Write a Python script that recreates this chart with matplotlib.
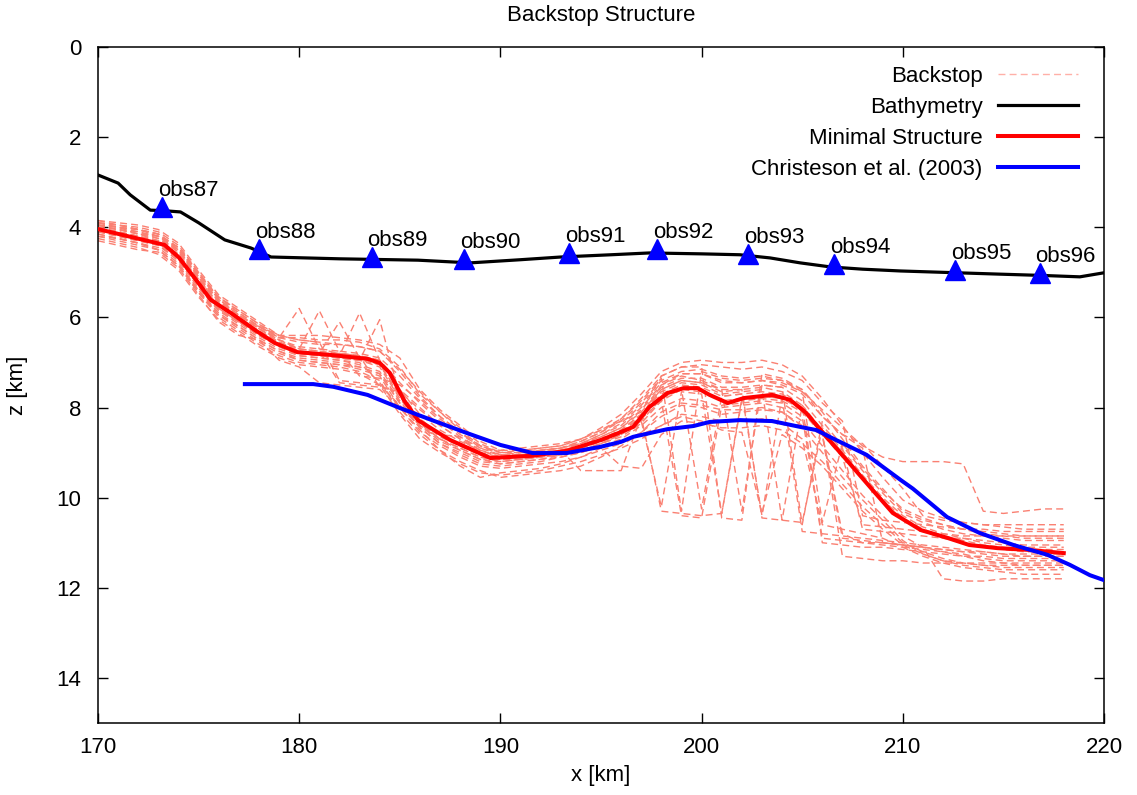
import matplotlib
matplotlib.use("Agg")
import matplotlib.pyplot as plt
from matplotlib.lines import Line2D

plt.rcParams['font.family'] = ['Liberation Sans', 'DejaVu Sans']

# ---------------- data ----------------
title = "Backstop Structure"
x_label = "x [km]"
z_label = "z [km]"
x_ticks = [170, 180, 190, 200, 210, 220]
z_ticks = [0, 2, 4, 6, 8, 10, 12, 14]

bathy_x = [170.0, 171.0, 171.6, 172.6, 173.2, 174.1, 175.0, 176.3, 177.6, 178.6, 182.0,
           185.9, 188.5, 191.0, 193.0, 195.5, 197.4, 200.0, 201.9, 203.4, 204.9, 206.4,
           208.0, 209.9, 212.0, 214.8, 217.0, 218.8, 220.0]
bathy_z = [2.84, 3.02, 3.28, 3.62, 3.63, 3.66, 3.90, 4.28, 4.46, 4.66, 4.70,
           4.73, 4.79, 4.72, 4.66, 4.61, 4.57, 4.59, 4.61, 4.68, 4.79, 4.88,
           4.93, 4.97, 5.00, 5.04, 5.07, 5.10, 5.01]

minimal_x = [170.0, 171.5, 173.3, 174.0, 175.0, 175.6, 176.6, 177.8, 178.8, 179.9, 181.5,
             183.4, 184.0, 184.5, 185.2, 185.9, 187.5, 189.5, 191.6, 193.3, 195.0, 195.9,
             196.6, 197.4, 198.3, 199.1, 199.8, 200.4, 201.3, 202.1, 203.5, 204.4, 205.2,
             206.2, 207.2, 208.5, 209.5, 210.9, 212.2, 213.3, 214.7, 216.3, 218.0]
minimal_z = [4.04, 4.20, 4.39, 4.66, 5.24, 5.61, 5.90, 6.28, 6.57, 6.77, 6.83,
             6.92, 7.01, 7.23, 7.83, 8.28, 8.72, 9.12, 9.07, 8.96, 8.72, 8.56,
             8.43, 7.99, 7.68, 7.57, 7.57, 7.72, 7.90, 7.79, 7.72, 7.83, 8.12,
             8.65, 9.16, 9.83, 10.34, 10.72, 10.89, 11.05, 11.12, 11.16, 11.23]

christeson_x = [177.3, 180.7, 181.7, 183.4, 185.0, 186.6, 188.3, 190.0, 191.6, 193.3, 195.0,
                196.0, 196.6, 198.3, 199.6, 200.4, 201.9, 203.5, 204.9, 205.7, 206.5, 208.2,
                209.9, 210.5, 212.2, 213.8, 215.5, 217.2, 218.3, 219.3, 220.0]
christeson_z = [7.48, 7.48, 7.54, 7.72, 8.01, 8.28, 8.56, 8.83, 9.01, 9.01, 8.87,
                8.76, 8.65, 8.48, 8.41, 8.32, 8.28, 8.30, 8.43, 8.50, 8.68, 9.05,
                9.61, 9.80, 10.43, 10.78, 11.05, 11.27, 11.49, 11.72, 11.83]

obs_names = ["obs87", "obs88", "obs89", "obs90", "obs91", "obs92", "obs93", "obs94", "obs95", "obs96"]
obs_x = [173.2, 178.0, 183.6, 188.2, 193.4, 197.8, 202.3, 206.6, 212.6, 216.8]
obs_z = [3.55, 4.48, 4.66, 4.70, 4.57, 4.48, 4.59, 4.81, 4.95, 5.01]

# backstop ensemble: depths at x = 170, 171, ..., 218 km
backstop_x = list(range(170, 219))
backstop_1 = [3.90, 3.95, 4.00, 4.10, 4.40, 5.00, 5.55, 5.85, 6.15, 6.45,
              6.45, 6.50, 6.50, 6.55, 6.70, 7.10, 7.70, 8.10, 8.45, 8.80,
              9.00, 9.00, 8.95, 8.90, 8.75, 8.55, 8.30, 7.90, 7.40, 7.20,
              7.15, 7.30, 7.35, 7.30, 7.40, 7.60, 8.10, 8.70, 9.30, 9.80,
              10.30, 10.50, 10.60, 10.70, 10.80, 10.85, 10.90, 10.90, 10.90]
backstop_2 = [4.20, 4.30, 4.40, 4.50, 4.85, 5.45, 5.95, 6.25, 6.55, 6.80,
              6.95, 7.00, 7.05, 7.15, 7.30, 8.00, 8.55, 8.85, 9.10, 9.30,
              9.35, 9.30, 9.25, 9.20, 9.10, 8.95, 8.80, 8.55, 8.20, 7.95,
              8.00, 8.15, 8.10, 8.05, 8.10, 8.40, 8.60, 11.30, 11.35, 11.40,
              11.40, 11.45, 11.45, 11.45, 11.45, 11.45, 11.45, 11.45, 11.45]
backstop_3 = [3.95, 4.05, 4.10, 4.20, 4.55, 5.10, 5.65, 5.95, 6.25, 6.50,
              6.70, 5.85, 6.75, 6.80, 6.90, 7.30, 7.80, 8.20, 8.55, 8.90,
              9.05, 9.05, 9.00, 8.90, 8.80, 8.60, 8.40, 8.00, 7.50, 7.30,
              7.40, 7.60, 10.30, 7.50, 7.55, 7.85, 8.40, 8.90, 10.70, 10.75,
              10.80, 10.85, 10.90, 10.90, 10.95, 11.00, 11.05, 11.05, 11.05]
backstop_4 = [4.10, 4.20, 4.30, 4.40, 4.70, 5.30, 5.85, 6.10, 6.40, 6.65,
              6.85, 6.90, 6.95, 7.00, 7.45, 8.00, 8.40, 8.70, 8.95, 9.15,
              9.25, 9.20, 9.15, 9.05, 8.95, 8.80, 8.65, 8.35, 7.85, 10.40,
              10.45, 7.95, 7.90, 7.85, 7.90, 8.20, 10.90, 10.95, 11.00, 11.00,
              11.05, 11.10, 11.15, 11.20, 11.20, 11.25, 11.30, 11.30, 11.30]
backstop_5 = [3.85, 3.90, 3.95, 4.05, 4.35, 4.95, 5.50, 5.80, 6.10, 6.40,
              6.40, 6.40, 6.45, 6.50, 6.60, 6.90, 7.60, 8.05, 8.40, 8.75,
              8.95, 8.95, 8.90, 8.85, 8.70, 8.45, 8.15, 7.70, 7.20, 7.00,
              6.95, 7.00, 7.00, 6.95, 7.05, 7.30, 7.80, 8.40, 9.00, 9.55,
              10.05, 10.30, 10.45, 10.55, 10.60, 10.65, 10.70, 10.70, 10.70]
backstop_6 = [4.25, 4.35, 4.45, 4.60, 4.95, 5.55, 6.05, 6.35, 6.65, 6.90,
              7.05, 7.10, 7.15, 7.25, 7.50, 8.15, 8.70, 9.00, 9.25, 9.45,
              9.50, 9.45, 9.40, 9.30, 9.20, 9.05, 8.90, 8.70, 8.40, 8.15,
              8.20, 8.30, 8.30, 8.25, 8.35, 8.70, 10.60, 10.70, 10.80, 10.90,
              11.10, 11.30, 11.45, 11.55, 11.60, 11.65, 11.70, 11.70, 11.70]
backstop_7 = [4.00, 4.10, 4.20, 4.30, 4.60, 5.20, 5.70, 6.00, 6.30, 6.55,
              6.75, 6.80, 6.85, 5.90, 6.95, 7.65, 8.25, 8.60, 8.80, 9.00,
              9.10, 9.05, 9.00, 8.95, 8.85, 8.70, 8.50, 8.15, 7.65, 7.45,
              7.50, 7.70, 7.65, 7.60, 10.50, 7.95, 8.50, 9.00, 9.55, 10.05,
              10.45, 10.70, 10.85, 10.95, 11.05, 11.10, 11.15, 11.15, 11.15]
backstop_8 = [4.05, 4.15, 4.25, 4.35, 4.65, 5.25, 5.75, 6.05, 6.35, 6.60,
              6.80, 6.85, 6.90, 6.95, 7.10, 7.80, 8.35, 8.70, 8.90, 9.10,
              9.15, 9.10, 9.05, 9.00, 8.90, 8.75, 8.60, 8.30, 10.20, 7.65,
              7.70, 10.35, 7.85, 7.80, 7.85, 8.10, 8.60, 9.10, 10.60, 10.65,
              10.70, 10.75, 10.80, 10.85, 10.85, 10.85, 10.85, 10.85, 10.85]
backstop_9 = [3.90, 4.00, 4.05, 4.15, 4.45, 5.05, 5.60, 5.90, 6.20, 6.50,
              6.65, 6.70, 6.75, 7.30, 7.35, 7.50, 7.85, 8.25, 8.60, 8.85,
              9.05, 9.00, 8.95, 8.90, 8.80, 8.60, 8.35, 7.95, 7.45, 7.25,
              7.25, 7.40, 7.45, 7.40, 7.45, 7.65, 8.05, 8.45, 8.85, 9.10,
              9.20, 9.20, 9.20, 9.25, 10.30, 10.35, 10.30, 10.25, 10.25]
backstop_10 = [4.15, 4.25, 4.35, 4.45, 4.80, 5.40, 5.90, 6.20, 6.50, 6.75,
               6.90, 6.95, 7.00, 7.10, 7.25, 7.90, 8.45, 8.80, 9.00, 9.20,
               9.25, 9.20, 9.15, 9.10, 9.00, 8.85, 8.70, 8.40, 8.00, 7.80,
               7.85, 8.00, 7.95, 7.90, 8.00, 8.30, 8.85, 9.40, 9.95, 10.40,
               10.85, 11.10, 11.80, 11.85, 11.85, 11.80, 11.80, 11.80, 11.80]
backstop_11 = [3.95, 4.00, 4.10, 4.25, 4.50, 5.10, 5.60, 5.95, 6.20, 6.45,
               5.80, 6.70, 6.80, 6.85, 6.95, 7.60, 8.15, 8.50, 8.75, 8.95,
               9.05, 9.05, 9.00, 8.95, 8.85, 8.65, 8.45, 8.05, 7.55, 7.35,
               7.35, 7.55, 7.55, 7.50, 7.55, 10.60, 8.30, 8.85, 9.40, 9.90,
               10.35, 10.55, 10.70, 10.80, 10.85, 10.90, 10.95, 10.95, 10.95]
backstop_12 = [4.10, 4.20, 4.30, 4.40, 4.75, 5.35, 5.85, 6.15, 6.45, 6.70,
               6.85, 6.90, 6.95, 7.05, 7.20, 7.85, 8.40, 8.75, 8.95, 9.15,
               9.20, 9.15, 9.10, 9.05, 8.95, 8.80, 8.60, 8.25, 7.85, 7.60,
               10.25, 7.75, 7.70, 10.40, 7.75, 8.00, 8.50, 9.00, 9.55, 10.05,
               10.50, 10.75, 10.90, 11.00, 11.10, 11.15, 11.20, 11.20, 11.20]
backstop_13 = [4.00, 4.05, 4.15, 4.30, 4.60, 5.15, 5.70, 6.00, 6.30, 6.55,
               6.75, 6.80, 6.80, 6.85, 7.55, 7.60, 8.00, 8.40, 8.70, 9.00,
               9.15, 9.15, 9.10, 9.00, 8.90, 8.75, 8.55, 8.20, 7.70, 7.50,
               7.55, 7.75, 7.70, 7.65, 7.70, 8.00, 8.60, 10.80, 11.00, 11.05,
               11.10, 11.15, 11.20, 11.30, 11.40, 11.45, 11.50, 11.50, 11.50]
backstop_14 = [3.90, 3.95, 4.05, 4.15, 4.45, 5.05, 5.55, 5.90, 6.20, 6.45,
               6.55, 6.60, 6.60, 6.65, 6.75, 7.20, 7.75, 8.20, 8.55, 8.85,
               9.00, 9.00, 8.95, 8.90, 8.75, 8.55, 8.25, 7.85, 7.35, 10.30,
               7.20, 7.35, 7.40, 7.35, 7.40, 7.65, 10.55, 8.80, 9.35, 9.85,
               10.25, 10.45, 10.60, 10.70, 10.75, 10.80, 10.85, 10.85, 10.85]
backstop_15 = [4.05, 4.10, 4.20, 4.35, 4.70, 5.30, 5.80, 6.10, 6.40, 6.65,
               6.80, 6.85, 6.90, 6.95, 6.05, 7.75, 8.35, 8.70, 8.90, 9.10,
               9.20, 9.15, 9.10, 9.05, 8.95, 8.80, 8.60, 8.30, 7.80, 7.60,
               7.65, 7.85, 7.80, 7.75, 7.80, 10.75, 10.80, 10.85, 10.90, 10.95,
               11.00, 11.05, 11.10, 11.15, 11.20, 11.25, 11.25, 11.25, 11.25]
backstop_16 = [4.20, 4.25, 4.35, 4.50, 4.85, 5.45, 6.00, 6.30, 6.60, 6.85,
               7.00, 7.05, 7.10, 7.20, 7.40, 8.10, 8.60, 8.95, 9.20, 9.40,
               9.55, 9.50, 9.45, 9.40, 9.30, 9.10, 8.85, 8.55, 8.10, 7.90,
               7.95, 8.05, 8.05, 8.00, 8.10, 8.45, 9.00, 9.55, 10.05, 10.50,
               10.95, 11.25, 11.40, 11.50, 11.55, 11.60, 11.60, 11.60, 11.60]
backstop_17 = [4.00, 4.10, 4.20, 4.30, 4.60, 5.20, 5.75, 6.05, 6.35, 6.60,
               6.80, 6.85, 6.90, 6.95, 7.05, 7.75, 8.30, 8.65, 8.85, 9.05,
               9.15, 9.10, 9.05, 9.00, 8.90, 8.75, 8.55, 8.20, 10.30, 10.35,
               10.40, 10.35, 7.80, 7.75, 7.80, 8.05, 8.60, 10.90, 10.95, 11.00,
               11.05, 11.10, 11.20, 11.25, 11.35, 11.40, 11.40, 11.40, 11.40]
backstop_18 = [3.95, 4.05, 4.15, 4.25, 4.55, 5.15, 5.65, 5.95, 6.25, 6.55,
               6.70, 6.75, 7.45, 7.50, 7.55, 7.65, 8.05, 8.40, 8.70, 8.95,
               9.10, 9.05, 9.00, 8.95, 8.80, 8.65, 8.45, 8.10, 7.60, 7.40,
               7.45, 7.65, 7.60, 10.45, 10.50, 10.55, 8.45, 8.95, 9.50, 10.00,
               10.40, 10.65, 10.80, 10.90, 11.00, 11.05, 11.10, 11.10, 11.10]
backstop_19 = [3.90, 4.00, 4.15, 4.20, 4.50, 5.10, 5.80, 6.10, 6.20, 6.40,
               6.50, 6.55, 7.40, 7.45, 7.50, 7.95, 8.40, 8.60, 8.65, 8.90,
               8.95, 8.90, 8.85, 8.80, 8.70, 8.50, 8.30, 8.10, 7.30, 7.10,
               7.05, 7.10, 7.15, 7.10, 7.20, 7.40, 7.90, 8.30, 10.40, 10.50,
               10.55, 10.60, 10.65, 10.70, 10.70, 10.75, 10.75, 10.75, 10.75]
backstop_20 = [4.30, 4.40, 4.50, 4.55, 4.90, 5.50, 6.10, 6.40, 6.50, 6.95,
               7.10, 7.45, 7.50, 7.55, 7.60, 8.00, 8.50, 8.95, 9.30, 9.55,
               9.45, 9.40, 9.35, 9.25, 9.10, 8.90, 9.30, 9.35, 8.60, 8.30,
               8.35, 8.45, 8.45, 8.40, 8.50, 8.80, 9.20, 9.70, 10.20, 10.60,
               11.00, 11.20, 11.35, 11.45, 11.50, 11.55, 11.55, 11.55, 11.55]
backstop_21 = [3.95, 4.00, 4.05, 4.15, 4.50, 5.05, 5.55, 5.85, 6.15, 6.40,
               6.50, 6.55, 6.60, 6.65, 6.75, 7.15, 7.65, 8.10, 8.50, 8.85,
               9.00, 8.95, 8.90, 8.85, 8.70, 8.50, 8.25, 7.80, 7.30, 7.10,
               7.10, 10.45, 10.50, 7.25, 7.35, 7.60, 8.20, 8.60, 8.80, 9.30,
               9.80, 10.40, 10.50, 10.55, 10.60, 10.60, 10.60, 10.60, 10.60]
backstop_22 = [4.10, 4.15, 4.25, 4.40, 4.70, 5.30, 5.80, 6.10, 6.40, 6.60,
               6.75, 6.80, 6.10, 6.90, 7.05, 7.70, 8.25, 8.60, 8.85, 9.05,
               9.10, 9.10, 9.05, 9.00, 8.90, 8.70, 8.50, 8.15, 7.60, 7.40,
               7.45, 7.60, 7.60, 7.55, 7.65, 7.95, 11.00, 11.05, 11.10, 11.10,
               11.15, 11.20, 11.25, 11.30, 11.30, 11.35, 11.35, 11.35, 11.35]
backstop_23 = [4.15, 4.25, 4.35, 4.50, 4.85, 5.40, 5.95, 6.20, 6.50, 6.75,
               6.95, 7.00, 7.05, 7.10, 7.25, 7.90, 8.45, 8.80, 9.05, 9.25,
               9.30, 9.25, 9.20, 9.10, 9.00, 8.85, 8.75, 8.60, 8.40, 8.20,
               8.30, 8.50, 8.55, 10.35, 8.60, 8.90, 9.30, 9.80, 10.30, 10.70,
               11.05, 11.25, 11.40, 11.45, 11.50, 11.50, 11.50, 11.50, 11.50]
backstop_24 = [3.85, 3.95, 4.05, 4.20, 4.45, 5.00, 5.60, 5.95, 6.25, 6.50,
               6.70, 6.75, 6.80, 6.85, 6.95, 7.45, 7.90, 8.30, 8.65, 8.95,
               9.10, 9.05, 9.00, 8.95, 9.40, 9.40, 9.40, 8.20, 7.50, 7.25,
               7.25, 7.45, 7.45, 7.40, 7.50, 7.70, 8.20, 8.60, 8.90, 11.00,
               11.05, 11.10, 11.15, 11.20, 11.25, 11.30, 11.30, 11.30, 11.30]
backstop_curves = [backstop_1, backstop_2, backstop_3, backstop_4, backstop_5, backstop_6,
                   backstop_7, backstop_8, backstop_9, backstop_10, backstop_11, backstop_12,
                   backstop_13, backstop_14, backstop_15, backstop_16, backstop_17, backstop_18,
                   backstop_19, backstop_20, backstop_21, backstop_22, backstop_23, backstop_24]

legend_labels = ["Backstop", "Bathymetry", "Minimal Structure", "Christeson et al. (2003)"]

# ---------------- figure ----------------
W, H = 1137, 795
fig = plt.figure(figsize=(W / 100, H / 100), dpi=100)
ax = fig.add_axes([98 / W, 1 - 723 / H, (1104 - 98) / W, (723 - 47) / H])

FS = 16
salmon = '#FA8072'
for zc in backstop_curves:
    ax.plot(backstop_x, zc, color=salmon, lw=1.0, dashes=(5, 3), zorder=2)

ax.plot(bathy_x, bathy_z, color='black', lw=2.3, zorder=3)
ax.plot(minimal_x, minimal_z, color='#ff0000', lw=2.9, zorder=4)
ax.plot(christeson_x, christeson_z, color='#0000ff', lw=2.9, zorder=5)
ax.plot(obs_x, obs_z, linestyle='none', marker='^', ms=15, color='#0000ff', mec='#0000ff', zorder=6)
for name, xo, zo in zip(obs_names, obs_x, obs_z):
    ax.annotate(name, (xo, zo), xytext=(-3, 8), textcoords='offset points',
                ha='left', va='baseline', fontsize=FS, zorder=7)

ax.set_xlim(170, 220)
ax.set_ylim(15, 0)
ax.set_xticks(x_ticks)
ax.set_yticks(z_ticks)
ax.tick_params(direction='in', length=7, width=1.0, top=True, right=True,
               labelsize=FS, pad=10)
ax.tick_params(axis='y', pad=12)
for s in ax.spines.values():
    s.set_linewidth(1.1)

fig.text(601 / W, 1 - 16 / H, title, ha='center', va='center', fontsize=FS)
fig.text(601 / W, 1 - 776 / H, x_label, ha='center', va='center', fontsize=FS)
fig.text(18 / W, 1 - 385 / H, z_label, ha='center', va='center', rotation=90, fontsize=FS)

handles = [Line2D([], [], color='#ffb0a8', lw=1.0, dashes=(5, 3)),
           Line2D([], [], color='black', lw=2.3),
           Line2D([], [], color='#ff0000', lw=2.9),
           Line2D([], [], color='#0000ff', lw=2.9)]
leg = ax.legend(handles, legend_labels, loc='upper right', markerfirst=False, frameon=False,
                fontsize=FS, handlelength=3.6, handletextpad=0.7, labelspacing=0.45,
                bbox_to_anchor=(1078 / W, 1 - 66 / H), bbox_transform=fig.transFigure,
                borderaxespad=0, borderpad=0)
for t in leg.get_texts():
    t.set_ha('right')

fig.savefig('out.png', dpi=100)
